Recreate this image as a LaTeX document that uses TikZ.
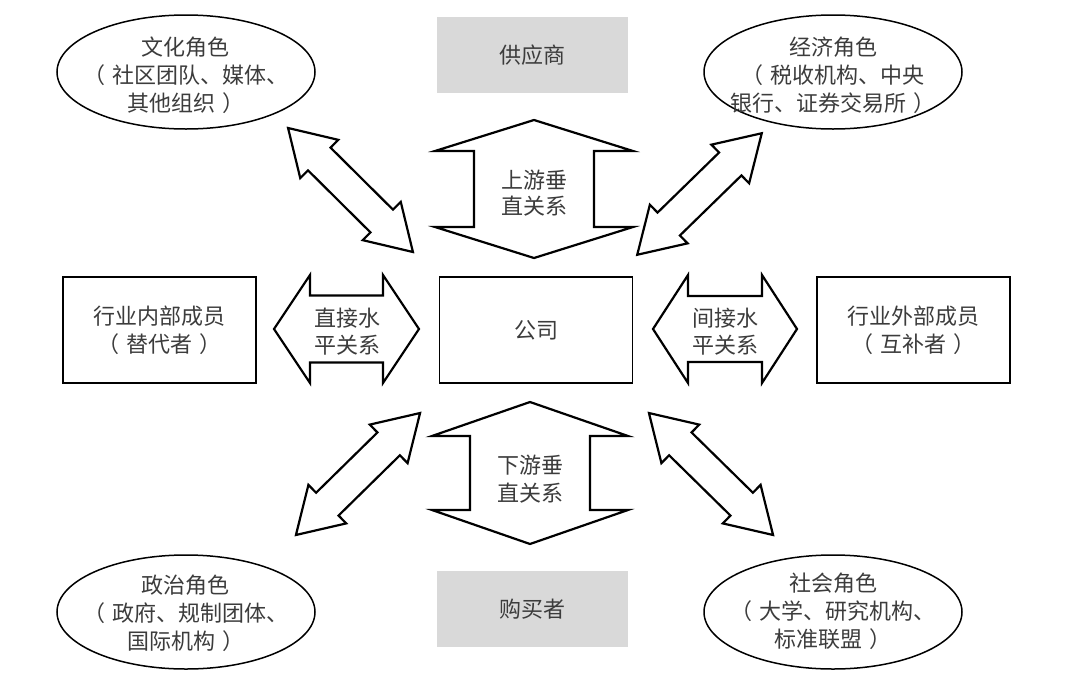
\documentclass[tikz,border=0pt]{standalone}
\usepackage{fontspec}
\newfontfamily\cjk{Noto Sans CJK SC}
\usetikzlibrary{shapes.geometric}
\definecolor{txtgray}{RGB}{60,60,60}
\definecolor{boxgray}{RGB}{217,217,217}
\newcommand\lp{（\hspace{0.3em}}
\newcommand\rp{\hspace{0.3em}）}
\tikzset{
  every node/.style={font=\cjk\fontsize{22}{28}\selectfont, text=txtgray},
  lbl/.style={align=center, inner sep=0pt},
  whitebox/.style={draw=black, line width=1.5pt, minimum width=193pt, minimum height=106pt, inner sep=0pt, align=center},
  graybox/.style={fill=boxgray, minimum width=191pt, minimum height=76pt, inner sep=0pt},
  oval/.style={ellipse, draw=black, line width=1.5pt, minimum width=258pt, minimum height=114pt, inner sep=0pt},
  fatarrow/.style={draw=black, line width=2.2pt, fill=white, line join=miter}
}
% #1 centre, #2 angle, #3 half length, #4 head length, #5 shaft half width, #6 head half width
\newcommand\bigdblarrow[6]{%
  \begin{scope}[shift={#1},rotate=#2]
    \draw[fatarrow] (-#3,0) -- (-#3+#4,#6) -- (-#3+#4,#5) -- (#3-#4,#5) -- (#3-#4,#6) -- (#3,0)
      -- (#3-#4,-#6) -- (#3-#4,-#5) -- (-#3+#4,-#5) -- (-#3+#4,-#6) -- cycle;
  \end{scope}}
\begin{document}
\begin{tikzpicture}[x=1pt,y=-1pt]
\useasboundingbox (0,0) rectangle (1080,694);
\fill[white] (0,0) rectangle (1080,694);

% boxes
\node[graybox] (sup) at (532.5,55) {供应商};
\node[graybox] (buy) at (532.5,609) {购买者};
\node[whitebox] (firm) at (536,330) {公司};
\node[whitebox] (inner) at (159.5,330) {行业内部成员\\\lp 替代者\rp};
\node[whitebox] (outer) at (913.5,330) {行业外部成员\\\lp 互补者\rp};

% ellipses
\node[oval] (cul) at (186,72) {};
\node[oval] (eco) at (833,72) {};
\node[oval] (pol) at (186,612) {};
\node[oval] (soc) at (833,612) {};
\node[lbl] at (cul.center) [yshift=-3pt] {文化角色\\\lp 社区团队、媒体、\\其他组织\rp};
\node[lbl] at (eco.center) [yshift=-3pt] {经济角色\\\lp 税收机构、中央\\银行、证券交易所\rp};
\node[lbl] at (pol.center) [yshift=-1pt] {政治角色\\\lp 政府、规制团体、\\国际机构\rp};
\node[lbl] at (soc.center) [yshift=1pt] {社会角色\\\lp 大学、研究机构、\\标准联盟\rp};

% arrow centres
\coordinate (aUp) at (534,189);
\coordinate (aDown) at (530,473);
\coordinate (aLeft) at (346.5,329);
\coordinate (aRight) at (725,329);
\coordinate (aTL) at (350.5,190);
\coordinate (aTR) at (699.5,194);
\coordinate (aBL) at (358,474);
\coordinate (aBR) at (711,474);

\bigdblarrow{(aUp)}{90}{69}{31}{60}{99}
\bigdblarrow{(aDown)}{90}{71}{34}{60}{98}
\bigdblarrow{(aLeft)}{0}{72.5}{36}{33.5}{54}
\bigdblarrow{(aRight)}{0}{72}{35}{33}{54}
\bigdblarrow{(aTL)}{-44.8}{88}{44}{16}{27}
\bigdblarrow{(aTR)}{44.3}{87}{44}{16}{27}
\bigdblarrow{(aBL)}{44.5}{87}{44}{16}{27}
\bigdblarrow{(aBR)}{-44.5}{87}{44}{16}{27}

\node[lbl, font=\cjk\fontsize{22}{26}\selectfont] at (534,193) {上游垂\\直关系};
\node[lbl, font=\cjk\fontsize{22}{28}\selectfont] at (530,479) {下游垂\\直关系};
\node[lbl, font=\cjk\fontsize{22}{27}\selectfont] at (347,331.5) {直接水\\平关系};
\node[lbl, font=\cjk\fontsize{22}{27}\selectfont] at (725,331.5) {间接水\\平关系};
\end{tikzpicture}
\end{document}
